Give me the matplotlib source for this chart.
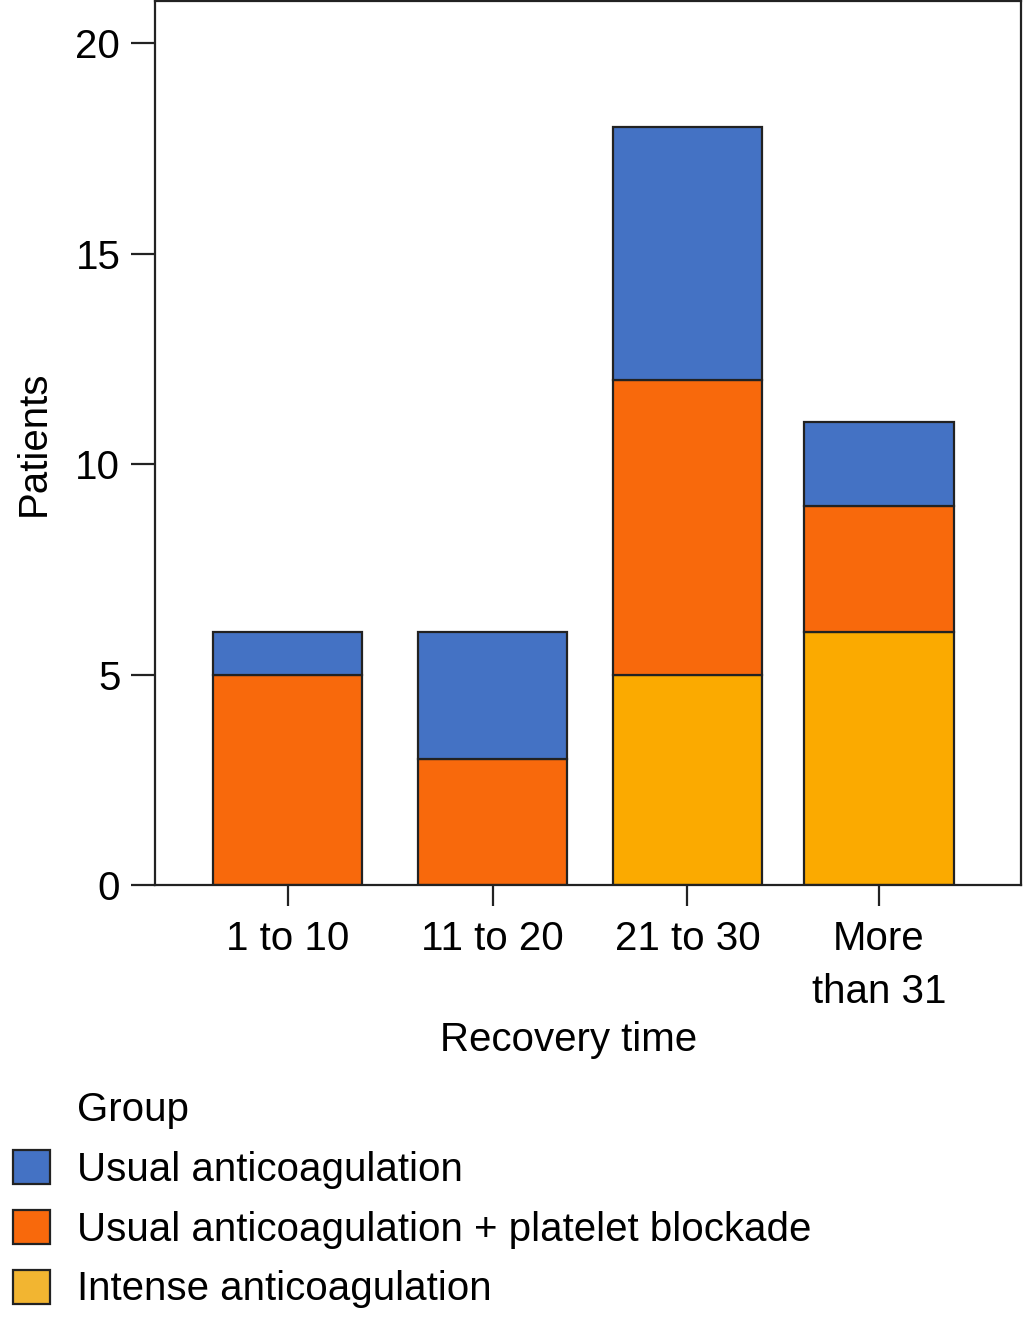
import matplotlib
matplotlib.use("Agg")
import matplotlib.pyplot as plt
from matplotlib.patches import Patch
import numpy as np

plt.rcParams['font.family'] = ['Liberation Sans', 'DejaVu Sans']

categories = ["1 to 10", "11 to 20", "21 to 30", "More\nthan 31"]
intense = [0, 0, 5, 6]
platelet = [5, 3, 7, 3]
usual = [1, 3, 6, 2]

col_usual = "#4472C4"
col_platelet = "#F8690C"
col_intense = "#FBAA00"
col_intense_leg = "#F2B531"
edge = "#222222"
fs = 29

fig = plt.figure(figsize=(10.24, 13.24), dpi=100)
ax = fig.add_axes([155/1024, 1 - 885/1324, 866/1024, 884/1324])

# bar centres as they sit in the original (slightly uneven)
x = np.array([0, 1.04, 2.028, 3.0])
w = 0.756
b1 = np.array(intense)
b2 = b1 + np.array(platelet)
ax.bar(x, intense, w, color=col_intense, edgecolor=edge, linewidth=1.6)
ax.bar(x, platelet, w, bottom=b1, color=col_platelet, edgecolor=edge, linewidth=1.6)
ax.bar(x, usual, w, bottom=b2, color=col_usual, edgecolor=edge, linewidth=1.6)

ax.set_xlim(-0.672, 3.72)
ax.set_ylim(0, 21)
ax.set_yticks([0, 5, 10, 15, 20])
ax.set_xticks(x)
ax.set_xticklabels(categories, linespacing=1.5)
for s in ax.spines.values():
    s.set_linewidth(1.6)
    s.set_color(edge)
ax.tick_params(axis='both', labelsize=fs, length=17, width=1.6, color=edge, pad=8)
ax.tick_params(axis='x', length=15, pad=10)
ax.set_ylabel("Patients", fontsize=fs, labelpad=16)
ax.set_xlabel("Recovery time", fontsize=fs, labelpad=10)
ax.xaxis.set_label_coords((569 - 155) / 866, -0.154)

handles = [Patch(facecolor=col_usual, edgecolor=edge, linewidth=1.6),
           Patch(facecolor=col_platelet, edgecolor=edge, linewidth=1.6),
           Patch(facecolor=col_intense_leg, edgecolor=edge, linewidth=1.6)]
labels = ["Usual anticoagulation", "Usual anticoagulation + platelet blockade",
          "Intense anticoagulation"]
fig.text(77/1024, 1 - 1110/1324, "Group", fontsize=fs, va='center', ha='left')
leg = fig.legend(handles, labels, loc='upper left',
                 bbox_to_anchor=(13/1024, 1 - 1150/1324), frameon=False,
                 fontsize=fs, handlelength=0.92,
                 handleheight=0.92, handletextpad=0.66, labelspacing=0.52,
                 borderaxespad=0, borderpad=0)

fig.savefig("out.png", dpi=100)
